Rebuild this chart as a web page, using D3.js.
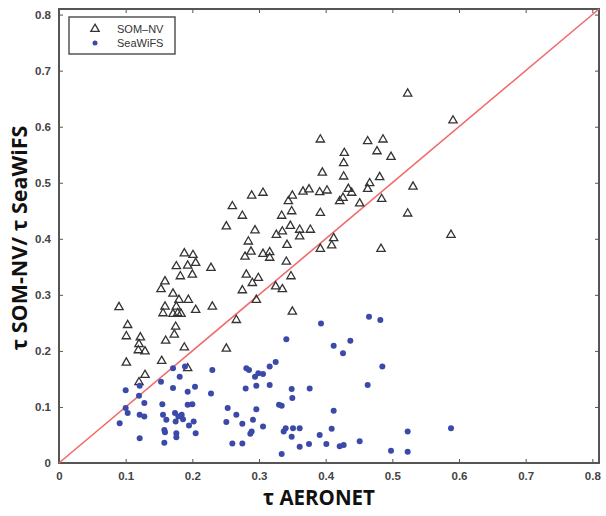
<!DOCTYPE html>
<html><head><meta charset="utf-8">
<script src="https://cdn.jsdelivr.net/npm/d3@7"></script>
<style>body{margin:0;background:#fff}svg{display:block}</style>
</head><body>
<script>
const tickValues = [0,0.1,0.2,0.3,0.4,0.5,0.6,0.7,0.8];
const tickLabels = ["0","0.1","0.2","0.3","0.4","0.5","0.6","0.7","0.8"];
const seriesNames = ["SOM\u2013NV","SeaWiFS"];
const axisTitles = ["\u03C4 AERONET","\u03C4 SOM-NV/ \u03C4 SeaWiFS"];
// SOM-NV: [tau AERONET, tau SOM-NV]
const somnv = [
[0.090,0.278],[0.103,0.246],[0.101,0.226],[0.122,0.224],[0.120,0.212],[0.119,0.201],[0.129,0.199],[0.101,0.179],
[0.129,0.157],[0.120,0.144],[0.188,0.374],[0.201,0.371],[0.176,0.351],[0.193,0.352],[0.205,0.357],[0.182,0.333],
[0.200,0.336],[0.159,0.324],[0.153,0.310],[0.171,0.302],[0.180,0.291],[0.194,0.291],[0.159,0.279],[0.156,0.267],
[0.176,0.279],[0.178,0.267],[0.171,0.266],[0.183,0.266],[0.205,0.273],[0.230,0.279],[0.228,0.348],[0.175,0.243],
[0.173,0.229],[0.160,0.218],[0.188,0.206],[0.154,0.182],[0.193,0.169],[0.251,0.204],[0.251,0.422],[0.266,0.255],
[0.296,0.291],[0.275,0.308],[0.281,0.336],[0.290,0.321],[0.299,0.330],[0.279,0.368],[0.288,0.377],[0.306,0.373],
[0.316,0.376],[0.316,0.366],[0.284,0.395],[0.294,0.415],[0.326,0.407],[0.325,0.315],[0.289,0.477],[0.306,0.482],
[0.260,0.458],[0.275,0.441],[0.523,0.659],[0.591,0.611],[0.392,0.577],[0.463,0.574],[0.486,0.577],[0.477,0.556],
[0.498,0.546],[0.428,0.553],[0.427,0.535],[0.395,0.518],[0.427,0.511],[0.481,0.510],[0.466,0.499],[0.531,0.493],
[0.375,0.488],[0.366,0.484],[0.391,0.483],[0.402,0.486],[0.434,0.489],[0.463,0.489],[0.439,0.482],[0.350,0.477],
[0.344,0.467],[0.426,0.473],[0.421,0.467],[0.484,0.471],[0.451,0.463],[0.349,0.449],[0.334,0.441],[0.392,0.446],
[0.523,0.445],[0.347,0.423],[0.335,0.413],[0.361,0.416],[0.361,0.404],[0.377,0.416],[0.412,0.401],[0.409,0.388],
[0.392,0.382],[0.342,0.389],[0.588,0.407],[0.483,0.382],[0.341,0.359],[0.348,0.333],[0.335,0.310],[0.350,0.270]
];
// SeaWiFS: [tau AERONET, tau SeaWiFS]
const seawifs = [
[0.100,0.130],[0.121,0.138],[0.120,0.120],[0.153,0.145],[0.171,0.169],[0.181,0.154],[0.189,0.172],[0.171,0.134],
[0.193,0.127],[0.204,0.136],[0.230,0.166],[0.228,0.124],[0.281,0.169],[0.285,0.166],[0.294,0.154],[0.299,0.160],
[0.306,0.159],[0.316,0.172],[0.325,0.180],[0.280,0.133],[0.296,0.138],[0.316,0.139],[0.091,0.071],[0.100,0.098],
[0.103,0.089],[0.121,0.086],[0.128,0.083],[0.128,0.107],[0.121,0.044],[0.155,0.105],[0.156,0.086],[0.161,0.077],
[0.158,0.059],[0.159,0.055],[0.158,0.036],[0.174,0.089],[0.175,0.074],[0.179,0.083],[0.184,0.086],[0.186,0.078],
[0.176,0.053],[0.176,0.046],[0.193,0.104],[0.200,0.105],[0.195,0.067],[0.202,0.074],[0.205,0.053],[0.253,0.098],
[0.251,0.073],[0.266,0.086],[0.260,0.035],[0.275,0.070],[0.275,0.035],[0.291,0.077],[0.289,0.056],[0.287,0.052],
[0.296,0.096],[0.306,0.065],[0.330,0.104],[0.334,0.102],[0.337,0.056],[0.334,0.016],[0.340,0.062],[0.349,0.047],
[0.349,0.132],[0.350,0.116],[0.351,0.062],[0.361,0.062],[0.361,0.029],[0.375,0.034],[0.376,0.133],[0.391,0.050],
[0.463,0.139],[0.412,0.093],[0.409,0.061],[0.401,0.034],[0.421,0.030],[0.427,0.032],[0.451,0.039],[0.498,0.022],
[0.523,0.056],[0.523,0.020],[0.588,0.062],[0.393,0.249],[0.465,0.261],[0.482,0.255],[0.341,0.221],[0.412,0.209],
[0.437,0.218],[0.426,0.196],[0.485,0.172]
];
const domainMax = 0.81;

const W = 606, H = 516;
const m = {left:59, right:7, top:9, bottom:53};
const svg = d3.select("body").append("svg").attr("width",W).attr("height",H);
const x = d3.scaleLinear().domain([0,domainMax]).range([m.left, W-m.right]);
const y = d3.scaleLinear().domain([0,domainMax]).range([H-m.bottom, m.top]);

const axisColor = "#555";
function styleAxis(g, labels){
  g.select(".domain").remove();
  g.selectAll(".tick line").attr("stroke", axisColor).attr("stroke-width",1);
  g.selectAll(".tick text").attr("fill","#444").attr("font-family","Liberation Sans, Arial, sans-serif").attr("font-size",11.5).attr("font-weight","bold").attr("opacity", labels?1:0);
}
const fmt = (d,i)=>tickLabels[i];
svg.append("g").attr("transform",`translate(0,${y(0)})`)
  .call(d3.axisBottom(x).tickValues(tickValues).tickFormat(fmt).tickSize(-4).tickPadding(9))
  .call(g=>styleAxis(g,true));
svg.append("g").attr("transform",`translate(${x(0)},0)`)
  .call(d3.axisLeft(y).tickValues(tickValues).tickFormat(fmt).tickSize(-4).tickPadding(8))
  .call(g=>styleAxis(g,true));
svg.append("g").attr("transform",`translate(0,${y(domainMax)})`)
  .call(d3.axisTop(x).tickValues(tickValues).tickFormat("").tickSize(-4))
  .call(g=>styleAxis(g,false));
svg.append("g").attr("transform",`translate(${x(domainMax)},0)`)
  .call(d3.axisRight(y).tickValues(tickValues).tickFormat("").tickSize(-4))
  .call(g=>styleAxis(g,false));

// frame
svg.append("rect").attr("x",x(0)).attr("y",y(domainMax))
  .attr("width",x(domainMax)-x(0)).attr("height",y(0)-y(domainMax))
  .attr("fill","none").attr("stroke",axisColor).attr("stroke-width",2);

// 1:1 line
svg.append("line").attr("x1",x(0)).attr("y1",y(0)).attr("x2",x(domainMax)).attr("y2",y(domainMax))
  .attr("stroke","#f26b6b").attr("stroke-width",1.6);

const tri = d3.symbol().type(d3.symbolTriangle).size(30);
svg.append("g").selectAll("path").data(somnv).join("path")
  .attr("d",tri).attr("transform",d=>`translate(${x(d[0])},${y(d[1])})`)
  .attr("fill","none").attr("stroke","#333").attr("stroke-width",1.3);

svg.append("g").selectAll("circle").data(seawifs).join("circle")
  .attr("cx",d=>x(d[0])).attr("cy",d=>y(d[1])).attr("r",3)
  .attr("fill","#3b4aa8");

// legend
const lg = svg.append("g");
lg.append("rect").attr("x",69).attr("y",17).attr("width",106).attr("height",37)
  .attr("fill","#fff").attr("stroke",axisColor).attr("stroke-width",1.5);
lg.append("path").attr("d",tri).attr("transform","translate(95,29)")
  .attr("fill","none").attr("stroke","#333").attr("stroke-width",1.3);
lg.append("circle").attr("cx",95).attr("cy",43).attr("r",2.5).attr("fill","#3b4aa8");
lg.selectAll("text").data(seriesNames).join("text")
  .attr("x",117).attr("y",(d,i)=>33+i*14).text(d=>d)
  .attr("font-family","Liberation Sans, Arial, sans-serif").attr("font-size",11).attr("fill","#333");

// axis titles
svg.append("text").attr("x",319).attr("y",505).attr("text-anchor","middle")
  .attr("font-family","Open Sans, Liberation Sans, sans-serif").attr("font-weight","bold").attr("font-size",20.5)
  .attr("fill","#111").text(axisTitles[0]);
svg.append("text").attr("transform","translate(27,238) rotate(-90)").attr("text-anchor","middle")
  .attr("font-family","Open Sans, Liberation Sans, sans-serif").attr("font-weight","bold").attr("font-size",21.5)
  .attr("fill","#111").text(axisTitles[1]);
</script>
</body></html>
